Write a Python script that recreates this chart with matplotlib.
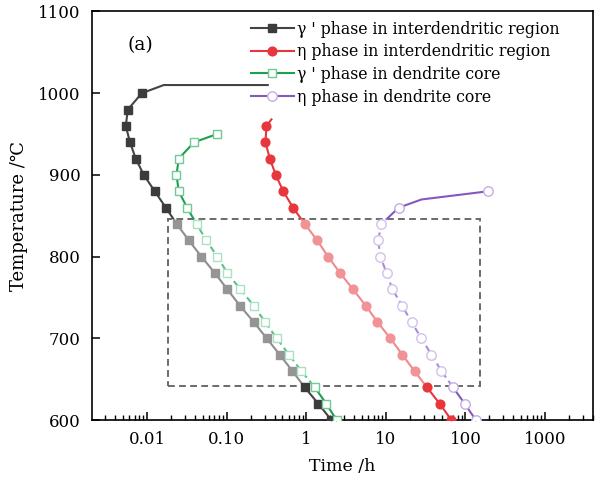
# grafico_tiempo_temperatura.py

import numpy as np
import matplotlib.pyplot as plt
from matplotlib.patches import Rectangle
from matplotlib.lines import Line2D
from matplotlib.ticker import FixedLocator, LogLocator, NullFormatter

plt.rcParams['font.family'] = ['DejaVu Serif', 'DejaVu Sans']
plt.rcParams['font.size'] = 11.5

# Datos: temperatura (°C) y tiempo (h)
temp_gp_inter = [600, 620, 640, 660, 680, 700, 720, 740, 760, 780, 800,
                 820, 840, 860, 880, 900, 920, 940, 960, 980, 1000]
time_gp_inter = [2.07, 1.42, 0.958, 0.671, 0.465, 0.319, 0.219, 0.147, 0.102, 0.071, 0.0482,
                 0.0334, 0.0236, 0.0172, 0.0125, 0.0091, 0.0072, 0.0061, 0.0054, 0.00573, 0.00858]
temp_gp_inter_linea = [1010, 1010]
time_gp_inter_linea = [0.0162, 0.328]

temp_eta_inter = [600, 620, 640, 660, 680, 700, 720, 740, 760, 780, 800,
                  820, 840, 860, 880, 900, 920, 940, 960]
time_eta_inter = [66.7, 47.6, 32.9, 22.9, 16.1, 11.4, 7.84, 5.59, 3.87, 2.66, 1.88,
                  1.37, 0.958, 0.682, 0.514, 0.414, 0.348, 0.307, 0.316]
temp_eta_inter_linea = [968]
time_eta_inter_linea = [0.365]

temp_gp_core = [600, 620, 640, 660, 680, 700, 720, 740, 760, 780, 800,
                820, 840, 860, 880, 900, 920, 940, 950]
time_gp_core = [2.4, 1.79, 1.28, 0.87, 0.608, 0.426, 0.304, 0.219, 0.149, 0.102, 0.0762,
                0.0557, 0.0418, 0.0318, 0.025, 0.0234, 0.025, 0.039, 0.0757]

temp_eta_core = [600, 620, 640, 660, 680, 700, 720, 740, 760, 780, 800,
                 820, 840, 860, 880]
time_eta_core = [135, 98, 69.9, 49.9, 37.4, 28.0, 21.0, 16.0, 12.1, 10.2, 8.55,
                 7.98, 8.8, 14.5, 192]
temp_eta_core_linea = [870]
time_eta_core_linea = [28.0]

# Recuadro discontinuo (zona de temperaturas intermedias)
caja_t = [0.0184, 151]
caja_T = [642, 846]

etiquetas = ["γ ' phase in interdendritic region",
             "η phase in interdendritic region",
             "γ ' phase in dendrite core",
             "η phase in dendrite core"]
x_ticks = [0.01, 0.1, 1, 10, 100, 1000]
x_labels = ["0.01", "0.10", "1", "10", "100", "1000"]
y_ticks = [600, 700, 800, 900, 1000, 1100]

fig = plt.figure(figsize=(5.96, 4.78), dpi=100)
ax = fig.add_axes([0.154, 0.121, 0.841, 0.855])
ax.set_xscale('log')
ax.set_xlim(0.00202, 4000)
ax.set_ylim(600, 1100)


def trazar(t, T, t_extra, T_extra, c_osc, c_clr, marker, ms, mfc_osc, mfc_clr,
           mec_osc, mec_clr, ls_medio):
    # linea completa (puntos con y sin marcador) ordenada por temperatura
    pts = sorted(zip(T + T_extra, t + t_extra))
    T_l = [p[0] for p in pts]
    t_l = [p[1] for p in pts]
    zonas = [((1e-4, caja_T[1]), 2000 - caja_T[1], c_osc, '-'),
             ((1e-4, 0), caja_T[0], c_osc, '-'),
             ((1e-4, caja_T[0]), caja_T[1] - caja_T[0], c_clr, ls_medio)]
    for xy, h, col, ls in zonas:
        ln, = ax.plot(t_l, T_l, color=col, lw=1.5, ls=ls, zorder=2)
        ln.set_clip_path(Rectangle(xy, 1e7, h, transform=ax.transData))
    T = np.array(T)
    t = np.array(t)
    dentro = (T > caja_T[0]) & (T < caja_T[1])
    ax.plot(t[~dentro], T[~dentro], ls='none', marker=marker, ms=ms,
            mfc=mfc_osc, mec=mec_osc, mew=1.0, zorder=3)
    ax.plot(t[dentro], T[dentro], ls='none', marker=marker, ms=ms,
            mfc=mfc_clr, mec=mec_clr, mew=1.0, zorder=3)


trazar(time_gp_inter, temp_gp_inter, time_gp_inter_linea, temp_gp_inter_linea,
       '#444444', '#8e8e8e', 's', 5.2, '#3c3c3c', '#959595', '#3c3c3c', '#959595', '-')
trazar(time_eta_inter, temp_eta_inter, time_eta_inter_linea, temp_eta_inter_linea,
       '#e8363d', '#f08a8c', 'o', 6.3, '#e8363d', '#f09296', '#e8363d', '#f09296', '-')
trazar(time_gp_core, temp_gp_core, [], [],
       '#1f9f50', '#5cc08a', 's', 5.8, 'white', 'white', '#6fcb93', '#a9e2c0', (0, (3, 2)))
trazar(time_eta_core, temp_eta_core, time_eta_core_linea, temp_eta_core_linea,
       '#8558bf', '#a98bd6', 'o', 6.8, 'white', 'white', '#c3ade3', '#d2c2ec', (0, (3, 2)))

# recuadro discontinuo
ax.add_patch(Rectangle((caja_t[0], caja_T[0]), caja_t[1] - caja_t[0], caja_T[1] - caja_T[0],
                       fill=False, ec='#6a6a6a', lw=1.4, ls=(0, (3.5, 2.2)), zorder=1))

# leyenda
handles = [Line2D([], [], color='#444444', lw=1.5, marker='s', ms=5.2, mfc='#3c3c3c', mec='#3c3c3c'),
           Line2D([], [], color='#e8363d', lw=1.5, marker='o', ms=6.3, mfc='#e8363d', mec='#e8363d'),
           Line2D([], [], color='#1f9f50', lw=1.5, marker='s', ms=5.8, mfc='white', mec='#6fcb93'),
           Line2D([], [], color='#8558bf', lw=1.5, marker='o', ms=6.8, mfc='white', mec='#c3ade3')]
ax.legend(handles, etiquetas, loc='upper left', bbox_to_anchor=(0.29, 1.012), frameon=False,
          handlelength=2.7, handletextpad=0.2, labelspacing=0.36, fontsize=11.3)

ax.text(0.072, 0.918, "(a)", transform=ax.transAxes, ha='left', va='center', fontsize=13.5)

# ejes
ax.xaxis.set_major_locator(FixedLocator(x_ticks))
ax.set_xticklabels(x_labels)
ax.xaxis.set_minor_locator(LogLocator(base=10, subs=np.arange(2, 10)))
ax.xaxis.set_minor_formatter(NullFormatter())
ax.set_yticks(y_ticks)
ax.tick_params(which='major', direction='in', length=6, width=1.1, labelsize=12, pad=8)
ax.tick_params(which='minor', direction='in', length=3.5, width=1.0)
for s in ax.spines.values():
    s.set_linewidth(1.2)
ax.set_xlabel("Time /h", fontsize=12.5, labelpad=7)
ax.set_ylabel("Temperature /℃", fontsize=13, labelpad=7)

plt.savefig("out.png", dpi=100)
plt.close()
